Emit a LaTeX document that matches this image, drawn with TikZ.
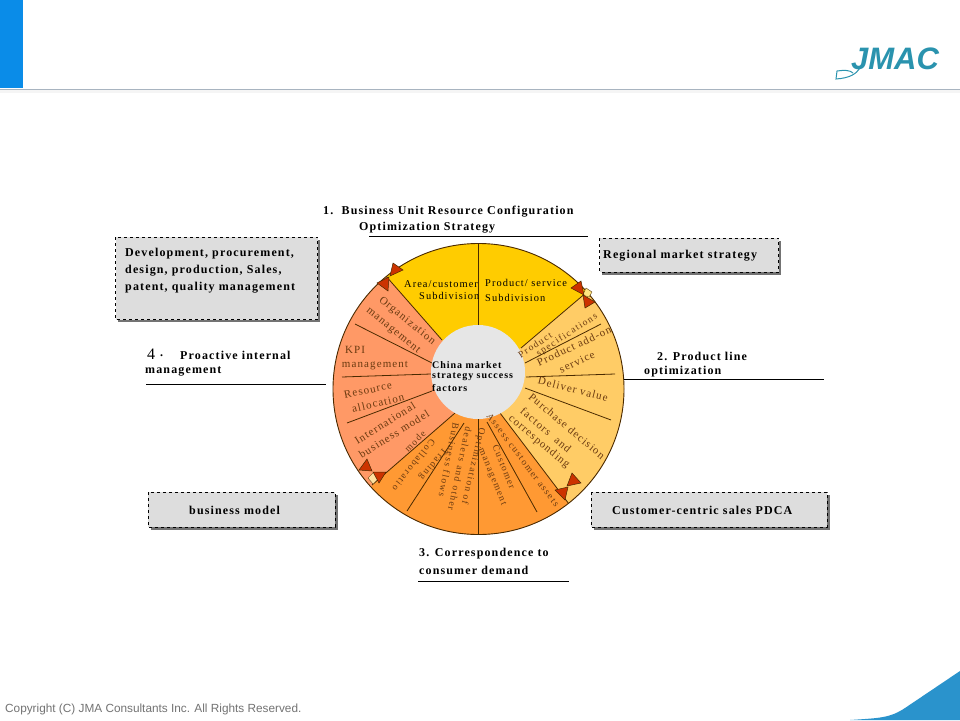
\documentclass[tikz,border=0pt]{standalone}
\usepackage{fontspec}
\setmainfont{Liberation Serif}
\newfontfamily\sansf{Liberation Sans}
\newfontfamily\hfont[LetterSpace=9.5]{Liberation Serif}
\newfontfamily\wfont[LetterSpace=10]{Liberation Serif}
\newfontfamily\sfont[LetterSpace=15]{Liberation Serif}
\usetikzlibrary{calc}
\definecolor{cyel}{HTML}{FFCC00}
\definecolor{cpale}{HTML}{FFCC66}
\definecolor{corg}{HTML}{FF9933}
\definecolor{csal}{HTML}{FF9966}
\definecolor{cin}{HTML}{E6E6E6}
\definecolor{cedge}{HTML}{4A2A00}
\definecolor{ctxt}{HTML}{6B3A10}
\definecolor{ctri}{HTML}{CC3300}
\definecolor{cbox}{HTML}{DDDDDD}
\definecolor{cteal}{HTML}{2A93AE}
\definecolor{cblue}{HTML}{0A8CE8}
\definecolor{ccorner}{HTML}{2A93CC}
\definecolor{chand}{HTML}{FFE680}
\definecolor{chandb}{HTML}{FFE0A0}
\definecolor{cline}{HTML}{A8B4C0}
\tikzset{
 x=1pt,y=-1pt,
 head/.style={font=\hfont\fontsize{12}{16}\selectfont\bfseries,inner sep=0,anchor=west,text=black},
 ctr/.style={font=\hfont\fontsize{10}{12}\selectfont\bfseries,inner sep=0,anchor=west,text=black},
 wedge/.style={font=\wfont\fontsize{11}{12}\selectfont,inner sep=0,text=ctxt},
 small/.style={font=\sfont\fontsize{9.5}{11}\selectfont,inner sep=0,text=ctxt},
 inyel/.style={font=\wfont\fontsize{10.4}{12}\selectfont,inner sep=0,anchor=west,text=black},
 rulel/.style={draw=black,line width=0.7pt},
 spoke/.style={draw=cedge,line width=0.8pt},
 tri/.style={fill=ctri,draw=cedge,line width=0.5pt},
 dbox/.style={fill=cbox,draw=black,dashed,line width=0.7pt},
 shad/.style={fill=black!55}
}
\begin{document}
\begin{tikzpicture}
\useasboundingbox (0,0) rectangle (960,720);
\fill[white] (0,0) rectangle (960,720);
% header
\fill[black!4] (0,90) rectangle (960,93);
\fill[cline] (0,88.8) rectangle (960,90.2);
\fill[cblue] (0,0) rectangle (23,88);
% logo
\node[inner sep=0,anchor=center,font=\sansf\fontsize{31}{31}\selectfont\bfseries\itshape,text=cteal] (logo) at (895,59) {JMAC};
\draw[cteal,line width=1pt] (860,68) .. controls (856,74) and (850,78) .. (836,79) -- (837,71) .. controls (844,70) and (850,70) .. (853,73);
% footer
\node[inner sep=0,anchor=west,font=\sansf\fontsize{11.8}{14}\selectfont,text=black!55] (copy) at (5,709) {Copyright (C) JMA Consultants Inc. All Rights Reserved.};
\fill[ccorner] (850,720) .. controls (880,718) and (890,718) .. (905,708) -- (960,671) -- (960,720) -- cycle;
% wheel
\begin{scope}
\clip (478.5,389) circle (145.5);
\fill[csal] (300,200) rectangle (660,600);
\fill[cyel] (478,372) -- (442,340) -- (380,269) -- (400,200) -- (620,200) -- (595,285) -- (521,348) -- cycle;
\fill[cpale] (478,372) -- (521,348) -- (595,285) -- (700,250) -- (700,560) -- (575,512) -- (500,413) -- cycle;
\fill[corg] (478,372) -- (500,413) -- (575,512) -- (560,620) -- (340,620) -- (372,485) -- (455,413) -- cycle;
\draw[spoke] (442,340) -- (385,275);
\draw[spoke] (521,348) -- (594,286);
\draw[spoke] (500,413) -- (572,508);
\draw[spoke] (455,413) -- (372,485);
\draw[spoke] (355,324) -- (432,363);
\draw[spoke] (342,377) -- (431,374);
\draw[spoke] (347,423) -- (432,391);
\draw[spoke] (525,363) -- (601,324);
\draw[spoke] (526,377) -- (615,374);
\draw[spoke] (525,388) -- (611,420);
\draw[spoke] (487,422) -- (537,512);
\draw[spoke] (464,423) -- (407,511);
\draw[spoke] (478,418) -- (478,534);
\draw[spoke] (478,244) -- (478,325);
\end{scope}
\draw[cedge,line width=0.9pt] (478.5,389) circle (145.5);
\fill[cin] (478,372) circle (47);
% handles
\fill[chand,draw=cedge,line width=0.3pt] (586,288) -- (592,292) -- (589,297) -- (583,295) -- cycle;
\fill[chandb,draw=cedge,line width=0.3pt] (368,478) -- (374,472) -- (379,478) -- (373,484) -- cycle;
\path[tri] (393,263) -- (403,270) -- (390,276) -- cycle;
\path[tri] (377,283) -- (389,277) -- (388,291) -- cycle;
\path[tri] (571,288) -- (581,281) -- (584,295) -- cycle;
\path[tri] (583,295) -- (595,302) -- (585,308) -- cycle;
\path[tri] (359,470) -- (367,459) -- (372,471) -- cycle;
\path[tri] (373,472) -- (386,472) -- (379,483) -- cycle;
\path[tri] (567,486) -- (572,473) -- (581,483) -- cycle;
\path[tri] (555,490) -- (568,487) -- (565,500) -- cycle;
% yellow texts
\node[inyel] (t1) at (404,284) {Area/customer};
\node[inyel] (t2) at (419,296) {Subdivision};
\node[inyel] (t3) at (485,283) {Product/ service};
\node[inyel] (t4) at (485,298) {Subdivision};
% salmon
\node[wedge,rotate=-39] (s1) at (407,321) {Organization};
\node[wedge,rotate=-39] (s2) at (393,331) {management};
\node[wedge] (s3) at (355,350) {KPI};
\node[wedge] (s4) at (375,366) {management};
\node[wedge,rotate=12] (s5) at (368,390) {Resource};
\node[wedge,rotate=13] (s6) at (378,403) {allocation};
\node[wedge,rotate=32] (s7) at (385,423) {International};
\node[wedge,rotate=32] (s8) at (394,434) {business model};
\node[small,rotate=45] (s9) at (415,441) {mode};
% orange
\node[small,rotate=232] (o1) at (414,465) {Collaboratio};
\node[small,rotate=231] (o2) at (433,464) {Trading};
\node[small,rotate=259] (o3) at (449,460) {Business flows};
\node[small,rotate=258] (o4) at (460,469) {dealers and other};
\node[small,rotate=257] (o5) at (473,466) {Optimization of};
\node[small,rotate=-68] (o6) at (492,477) {management};
\node[small,rotate=-68] (o7) at (504,467) {Customer};
\node[small,rotate=-53] (o8) at (523,460) {Assess customer assets};
% pale
\node[wedge,rotate=-40] (p1) at (567,426) {Purchase decision};
\node[wedge,rotate=-40] (p2) at (546,430) {factors~~and};
\node[wedge,rotate=-40] (p3) at (539,442) {corresponding};
\node[wedge,rotate=-14] (p4) at (573,389) {Deliver value};
\node[small,rotate=33] (p5) at (535,345) {Product};
\node[small,rotate=33] (p6) at (567,335) {specifications};
\node[wedge,rotate=25] (p7) at (574,346) {Product add-on};
\node[wedge,rotate=25] (p8) at (577,362) {service};
% center
\node[ctr] (c1) at (432,365) {China market};
\node[ctr] (c2) at (432,377) {strategy success};
\node[ctr] (c3) at (432,388) {factors};
% headings
\node[head] (h1a) at (323,212) {1.~~Business Unit Resource Configuration};
\node[head] (h1b) at (359,228) {Optimization Strategy};
\draw[rulel] (369,236.5) -- (588,236.5);
\node[head,font=\fontsize{16}{16}\selectfont] (h4n) at (147,354) {4};
\node[head] (h4d) at (160,356) {.};
\node[head] (h4a) at (180,355) {Proactive internal};
\node[head] (h4b) at (145,371) {management};
\draw[rulel] (146,384.5) -- (326,384.5);
\node[head] (h2a) at (657,356) {2. Product line};
\node[head] (h2b) at (644,372) {optimization};
\draw[rulel] (624,379) -- (824,379);
\node[head] (h3a) at (419,554) {3. Correspondence to};
\node[head] (h3b) at (419,570) {consumer demand};
\draw[rulel] (418,581.5) -- (569,581.5);
% boxes
\fill[shad] (118,240) rectangle (320,322);
\path[dbox] (115.5,237) rectangle (317.5,319.5);
\node[head] (b1a) at (125,254) {Development, procurement,};
\node[head] (b1b) at (125,271) {design, production, Sales,};
\node[head] (b1c) at (125,288) {patent, quality management};
\fill[shad] (602,241) rectangle (781,275);
\path[dbox] (599.5,238) rectangle (778.5,272);
\node[head] (b2) at (603,256) {Regional market strategy};
\fill[shad] (151,495) rectangle (338,530);
\path[dbox] (148,492) rectangle (335,527);
\node[head] (b3) at (189,510) {business model};
\fill[shad] (594,495) rectangle (830,530);
\path[dbox] (591,492) rectangle (827,527);
\node[head] (b4) at (612,510) {Customer-centric sales PDCA};
\end{tikzpicture}
\end{document}
